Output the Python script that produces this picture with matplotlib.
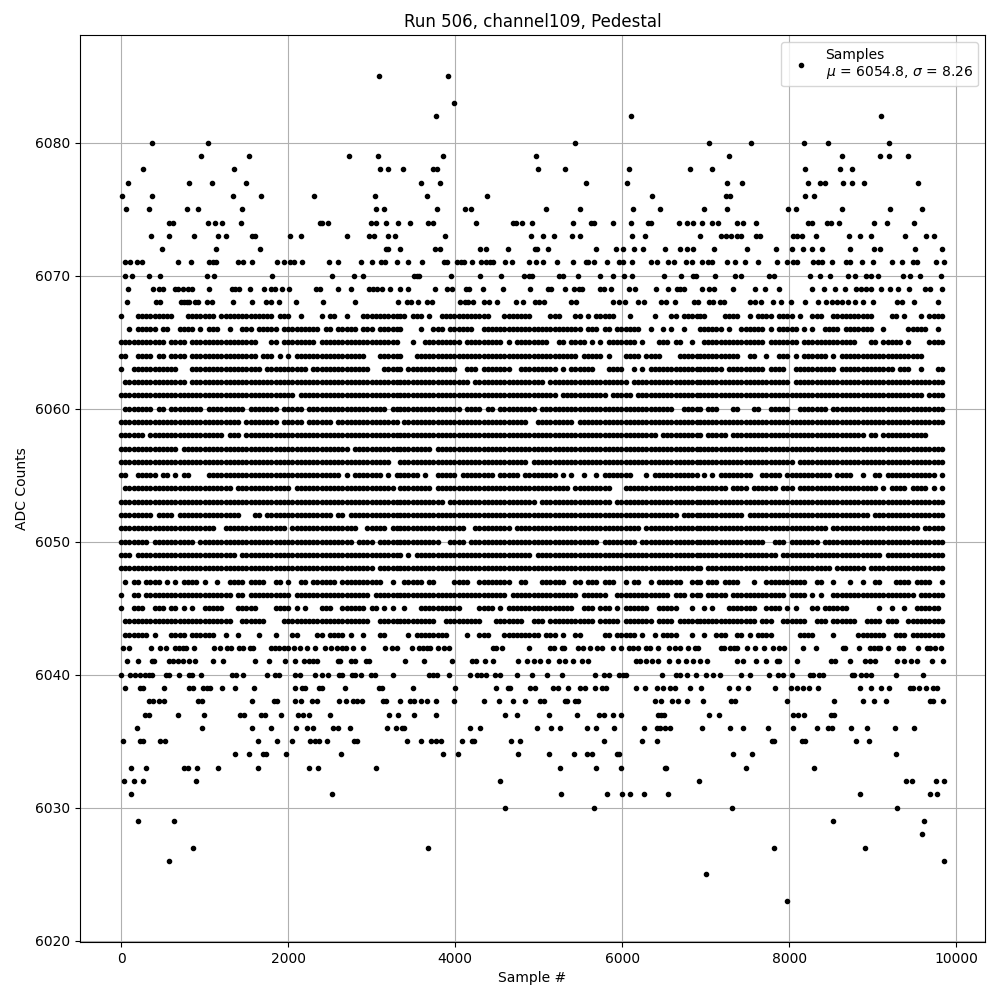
import matplotlib
matplotlib.use("Agg")
import matplotlib.pyplot as plt

title = "Run 506, channel109, Pedestal"
x_label = "Sample #"
y_label = "ADC Counts"
legend_label = "Samples\n$\\mu$ = 6054.8, $\\sigma$ = 8.26"

# Sparse levels: sample numbers
sparse = {}
sparse[6085] = [3092, 3916]
sparse[6083] = [3988]
sparse[6082] = [3772, 6100, 9104]
sparse[6080] = [368, 1040, 5440, 7040, 7544, 8180, 8468, 9200]
sparse[6079] = [956, 1532, 2732, 3080, 3856, 4972, 7280, 8636, 9092, 9200, 9428]
sparse[6078] = [260, 1352, 3104, 3200, 3376, 3736, 3784, 4996, 5320, 6076, 6808, 7076, 8192, 8612, 8756]
sparse[6077] = [80, 812, 1088, 1496, 3592, 3820, 5572, 6052, 7256, 7436, 8228, 8372, 8432, 8648, 8756, 8900, 9548]
sparse[6076] = [8, 368, 1340, 1676, 2312, 3044, 3664, 4384, 6352, 7244, 7292, 8192, 8300]
sparse[6075] = [56, 332, 788, 920, 1448, 3056, 3152, 3784, 4120, 4192, 5092, 5500, 6124, 6448, 6980, 7256, 7988, 8084, 8636, 9212, 9596]
sparse[6074] = [572, 620, 1040, 1124, 1208, 1436, 2384, 2408, 2480, 2996, 3056, 3176, 3320, 3460, 3676, 3736, 4252, 4696, 4732, 4804, 4924, 5416, 5632, 5668, 5884, 6100, 6304, 6340, 6676, 6772, 6844, 6956, 7076, 7148, 7376, 7448, 7604, 8228, 8276, 8456, 8504, 8600, 9020, 9176, 9500]
sparse[6073] = [356, 572, 872, 1160, 1256, 1568, 1604, 2024, 2156, 2708, 2972, 3032, 3200, 3284, 3880, 4912, 5056, 5188, 5404, 5500, 6112, 6268, 6928, 7184, 7244, 7304, 7376, 7424, 7604, 7652, 8048, 8096, 8156, 8324, 8720, 8852, 8984, 9392, 9644, 9728]
sparse[6072] = [488, 1136, 1664, 3176, 3200, 3336, 3760, 3820, 4300, 4372, 4636, 4960, 4984, 5116, 5692, 5920, 6004, 6136, 6244, 6508, 6688, 6772, 6844, 7100, 7496, 7844, 8036, 8168, 8276, 8396, 8732, 9020, 9092, 9512, 9824]
sparse[6071] = [44, 104, 188, 248, 680, 836, 1052, 1100, 1136, 1400, 1460, 1568, 1868, 1952, 2024, 2072, 2168, 2492, 2600, 2876, 3008, 3116, 3164, 3308, 3436, 3604, 3868, 3904, 4024, 4072, 4108, 4204, 4312, 4372, 4420, 4456, 4600, 4684, 4888, 4972, 5056, 5224, 5416, 5572, 5596, 5668, 5824, 5956, 6004, 6112, 6340, 6412, 6544, 6616, 6760, 6832, 6956, 7028, 7076, 7256, 7352, 7472, 7628, 7856, 7976, 8048, 8096, 8288, 8348, 8396, 8516, 8684, 8732, 8876, 9008, 9236, 9356, 9488, 9536, 9752, 9848]
sparse[6070] = [44, 128, 332, 464, 1028, 1112, 1808, 2528, 2792, 2900, 3508, 3544, 3568, 3952, 4300, 4552, 4828, 4888, 4924, 5248, 5296, 5476, 5740, 5884, 6016, 6112, 6496, 6700, 6844, 6880, 7112, 7352, 7424, 7760, 7820, 8252, 8372, 8492, 8708, 8792, 8924, 8984, 9068, 9368, 9452, 9572, 9812]
sparse[6069] = [80, 380, 452, 500, 644, 680, 740, 800, 848, 1052, 1328, 1364, 1412, 1544, 1712, 1796, 1844, 1928, 2012, 2336, 2384, 2600, 2756, 2972, 3020, 3068, 3128, 3224, 3340, 3436, 3760, 3904, 3964, 4132, 4168, 4336, 4576, 4900, 5116, 5152, 5320, 5428, 5488, 5524, 5740, 5788, 5872, 6076, 6148, 6400, 6544, 6652, 6688, 6736, 6956, 7040, 7100, 7328, 7592, 7708, 7880, 8276, 8420, 8552, 8672, 8804, 8864, 8924, 8984, 9104, 9212, 9308, 9440, 9632, 9680, 9824]
sparse[6068] = [68, 416, 464, 716, 752, 788, 812, 884, 920, 1028, 1088, 1340, 1568, 1736, 1796, 1892, 2096, 2420, 2804, 3320, 3424, 3472, 3556, 3664, 3724, 4060, 4120, 4156, 4216, 4348, 4408, 4504, 4732, 4816, 4960, 5008, 5068, 5392, 5452, 5884, 5956, 6028, 6184, 6256, 6460, 6520, 6628, 6856, 6904, 7040, 7088, 7172, 7220, 7532, 7592, 7664, 7808, 7904, 8024, 8192, 8348, 8444, 8516, 8576, 8636, 8708, 8792, 8888, 9004, 9296, 9356, 9500, 9776]
sparse[6042] = [20, 92, 356, 464, 536, 644, 692, 740, 776, 872, 1112, 1184, 1268, 1316, 1412, 1460, 1544, 1580, 1796, 1844, 1892, 1952, 2000, 2072, 2144, 2228, 2324, 2444, 2516, 2588, 2648, 2696, 2780, 2900, 3164, 3248, 3308, 3484, 3568, 3616, 3664, 3700, 3796, 3868, 3928, 4456, 4492, 4564, 4888, 5140, 5188, 5284, 5308, 5476, 5536, 5620, 5704, 5764, 5884, 5980, 6076, 6124, 6184, 6280, 6328, 6424, 6556, 6628, 6688, 6784, 6868, 6904, 7184, 7220, 7292, 7340, 7376, 7496, 7592, 7700, 7808, 7880, 7940, 8168, 8324, 8648, 8672, 8840, 8972, 9020, 9068, 9092, 9188, 9320, 9368, 9548, 9656, 9680, 9740, 9812]
sparse[6041] = [68, 200, 368, 392, 572, 620, 680, 740, 812, 884, 1100, 1220, 1604, 1772, 1964, 2084, 2192, 2252, 2300, 2348, 2600, 2624, 2756, 2804, 2936, 2972, 3400, 3628, 3964, 4204, 4252, 4360, 4456, 4756, 4864, 4948, 5020, 5116, 5248, 5320, 5416, 5524, 5596, 6160, 6208, 6280, 6352, 6424, 6556, 6664, 6760, 6844, 6932, 7016, 7376, 7448, 7604, 7724, 7856, 7880, 8096, 8504, 8552, 8732, 8912, 8972, 9032, 9296, 9380, 9464, 9536, 9704, 9836]
sparse[6040] = [0, 104, 164, 224, 284, 332, 368, 536, 572, 692, 812, 848, 956, 1328, 1376, 1460, 1748, 1844, 1892, 2084, 2144, 2324, 2408, 2480, 2612, 2648, 2764, 2804, 2876, 2996, 3044, 3260, 3688, 3736, 3784, 3928, 4180, 4264, 4312, 4372, 4480, 4540, 4744, 4924, 5104, 5284, 5680, 5788, 5848, 5956, 6004, 6040, 6472, 6640, 6688, 6772, 6880, 7004, 7088, 7172, 7424, 7532, 7760, 7868, 7928, 8036, 8252, 8288, 8360, 8408, 8756, 8780, 8864, 8924, 8984, 9284, 9608]
sparse[6039] = [44, 224, 260, 512, 812, 860, 980, 1028, 1064, 1208, 1364, 1592, 2084, 2168, 2204, 2372, 2408, 2684, 3092, 3128, 3496, 4000, 4492, 4636, 4660, 4900, 4960, 5176, 5236, 5356, 5500, 5560, 5680, 5764, 5812, 6160, 6268, 6412, 6484, 6568, 6628, 6808, 6944, 7280, 7388, 7508, 7832, 8024, 8096, 8168, 8240, 8348, 8852, 8984, 9104, 9200, 9452, 9488, 9560, 9644, 9716, 9764]
sparse[6038] = [332, 380, 452, 512, 920, 968, 1568, 1832, 1868, 2084, 2156, 2288, 2348, 2612, 2696, 2780, 2828, 2888, 3140, 3176, 3340, 3460, 3508, 3592, 3664, 3772, 3988, 4348, 4528, 4696, 4840, 5020, 5068, 5320, 5344, 5440, 5476, 6388, 6460, 6592, 6664, 6772, 6968, 7304, 7352, 7976, 8540, 8888, 9020, 9164, 9680, 9716, 9836]
sparse[6037] = [284, 332, 680, 992, 1424, 1472, 1676, 1724, 1916, 2120, 2180, 2252, 2504, 3212, 3320, 3508, 3772, 4600, 4744, 5128, 5464, 5728, 5788, 5884, 5980, 6424, 6460, 6496, 7040, 7160, 8048, 8108, 8180, 8504, 8540]
sparse[6036] = [188, 968, 1568, 1796, 2096, 2228, 2300, 2540, 2600, 2744, 3188, 3296, 3364, 3388, 4180, 4300, 4984, 5152, 5260, 5584, 5692, 5896, 6256, 6412, 6448, 6508, 6568, 6956, 7292, 7448, 7748, 8048, 8336, 8468, 8516, 8744, 8936, 9272, 9500]
sparse[6035] = [20, 224, 260, 464, 524, 1640, 1868, 2048, 2264, 2324, 2372, 2468, 2792, 2828, 3424, 3592, 3712, 3772, 3832, 4084, 4204, 4228, 4672, 4780, 5788, 6232, 6412, 7796, 7820, 8156, 8192, 8804, 8960]
sparse[6034] = [1364, 1532, 1700, 1736, 1976, 2636, 3856, 4036, 4756, 5128, 5428, 5584, 5644, 5932, 5956, 7328, 7556, 9284]
sparse[6033] = [116, 296, 752, 800, 908, 1160, 1640, 2252, 2360, 3056, 5260, 5692, 5980, 6508, 6520, 7484, 8300]
sparse[6032] = [32, 152, 260, 896, 4540, 6916, 9404, 9476, 9752, 9852]
sparse[6031] = [116, 2528, 5272, 5824, 5992, 6088, 6256, 6544, 8852, 9680, 9764]
sparse[6030] = [4600, 5668, 7316, 9296]
sparse[6029] = [200, 632, 8528, 9620]
sparse[6028] = [9596]
sparse[6027] = [860, 3676, 7820, 8912]
sparse[6026] = [572, 9852]
sparse[6025] = [7004]
sparse[6023] = [7976]

# Dense levels, top to bottom: occupied runs of 50-sample cells
core_levels = list(range(6067, 6042, -1))
core_left_runs = [
    "0 4-11 12 16-22 24-26 27-30 31-36 38-40 43 48 50-51 54 58-62 63-65 66",
    "2 4-8 10-11 14 15-17 19 21-23 26 29-31 33-37 39-45 46-47 49 50 52-56 58-60 62-66",
    "0-2 3-4 5-6 7-10 12-15 17-32 36-37 39-46 48-66",
    "0-1 4-7 9-10 12-15 17-22 23-32 34-36 38 40 42-58 62-66",
    "0 3-6 7-10 11-13 17-24 25-33 35-37 38-43 44 46-48 49-54 55-59 63-66",
    "1-15 17-20 21-26 27-38 39-52 53-66",
    "0-41 43-66",
    "1-7 9-10 12-19 21-29 31-34 35-37 39-43 45 46-63 65-66",
    "0-7 8-10 11-15 16-21 22-27 28 30-34 35-37 39-43 45-50 52-66",
    "0-5 7-10 11-24 26-27 28 30-35 36-44 45-49 50-66",
    "0-9 10-13 15-22 23-27 28-54 56-66",
    "0-11 12-22 23-43 44-48 49-64",
    "0-1 4-8 10-11 13 15-16 21-22 23-39 40-46 47-52 54 56-62 64 66",
    "1-12 13-26 28-33 34-40 42-65",
    "0-66",
    "0-1 2-5 6-7 9-12 14-19 20-25 26-28 32-33 35-48 49-50 52-53 55-66",
    "0-9 10-12 13-22 25-39 41-55 56 59-63 65-66",
    "0 1-4 5-6 8-17 19-21 22-26 27-31 32-55 57-60 62-66",
    "0-2 4-6 7 8-26 27 29-34 35-66",
    "0-2 3-20 21-26 27-32 33-60 62-66",
    "1 3-4 6-8 9 11 13 15-17 18 20 23 26-29 31-34 37-38 40 43-44 46-51 53-54 55-62 65",
    "0 3-4 6-10 11-16 17-26 28-29 31 32-40 42-48 49-59 61-65 66",
    "0 3-5 8-10 12-13 15 17 20-24 28-32 37-40 42 44 48-49 50 53-58 60-61 63 65",
    "1-5 6-7 8-10 11-14 15-19 20-26 29-34 39-47 48-50 51-59 62-66",
    "1-6 8 12-15 17-21 22 25 28 33 37 41-42 47-48 50-53 55 58 62-63",
]
core_mid_runs = [
    "0-1 3-5 7 10-21 25-31 36-38 42-43 45 47-51 55 61 65-66 68-71",
    "0 5 8-10 12-17 20-26 27-43 45-47 49-50 52 53-57 60 63 65 68",
    "3 6-11 12-14 16-22 23-24 26 28-35 38-39 41-44 46 48 50-56 58 62-64 66-67 70",
    "0 4 5-17 18-23 24-35 36-41 42 44-47 48 50 54-57 59-62 67-71",
    "0 2-13 16-18 20 21-26 29-30 31-37 39 41-46 50-53 56 58 60-62 63-71",
    "0-16 18-32 33-34 36-53 54 56-61 62-71",
    "0-37 39-42 43-49 51-55 57 58-71",
    "0-3 4-10 11-14 16-19 21-22 24-32 34-39 40-41 42-43 44-52 53-65 68-71",
    "1-24 25-30 33-41 43-64 65-66 67-71",
    "0-5 6-16 17-33 34-43 44-52 53-61 63-70 71",
    "0-7 9-45 46-71",
    "0-1 2-30 32-64 65-71",
    "0-1 2-4 6 9-10 11-13 15-19 20-22 24-28 30-37 39 41 44 47 49-55 59 61-65 66-71",
    "0-7 9-16 17-40 42-50 54 55-57 58-68 69-71",
    "0-10 12-32 34-50 52-71",
    "0-7 8-38 39-44 45-62 63 64-66 68-70 71",
    "0-8 9-10 11-12 13-15 18-19 20-25 26 28-57 59-71",
    "0-9 12-15 17-31 32-47 49-56 58-71",
    "0 2 4 5-14 15-24 25-28 29-30 31 33-43 44-71",
    "0-14 15-20 21-35 36-40 41 42-71",
    "1-4 5 7-8 13-16 19-26 29-30 34-39 42-43 45-47 49-51 54 56-57 60 62-67 70 71",
    "0-21 22-25 27-31 32-42 44-49 52-54 55-58 59-64 66-68 70-71",
    "1 5-9 10-14 19-22 24 26-34 35-38 39-41 44-46 48-50 52 54-59 62-66 70",
    "0-3 4-8 11-19 23-29 32-34 36-40 41-46 48-52 54 55-60 62-65 67-71",
    "2 4-6 7-11 16 19-21 25-30 31-33 35-37 39 42-43 49-50 52-56 58 61 63-66 70",
]
core_right_runs = [
    "0-1 6-9 12 14-17 19 20-22 24 27-29 32-41 46 47 49 53 55-58",
    "0-2 3-5 7 10-15 17 19-23 25 27 30-33 35-41 44 50-53 54 57",
    "1-4 5 6-15 17-23 25-37 41-42 44-48 50 55-58",
    "0-9 12-13 16 19-20 21 23 25-30 32 34-53",
    "0-5 7-15 17-20 23-32 34-46 48-50 53 57-58",
    "0-9 10-21 23-26 27-31 32-48 49-52 53-56 57-58",
    "0-9 10-28 29-34 35-53 55-58",
    "0 2-4 8-9 13-14 17-21 24-30 32 33-37 38-47 48-53 54-58",
    "0-4 5 6-17 18-36 37-41 42-45 46-57 58",
    "0 2-6 8-10 11-23 24-28 29 30-31 32-39 41 42 44-54",
    "0-26 27-53 54-58",
    "0-22 24-34 35-58",
    "1 3 5-8 9 10-12 15 16-19 21-28 29-31 33 34-36 39 42-43 45 46-56 58",
    "0-5 6 8-11 13-18 20-22 24-42 44 46-49 51-54 56 58",
    "0-58",
    "0-10 12-40 42-58",
    "0-30 32-39 40-52 54-58",
    "0-4 5-15 18-20 22-28 30-34 35-43 44-58",
    "0-9 10-18 20-43 45-58",
    "0 2-25 26-31 33-36 37-39 41-43 44-58",
    "0 2-4 6-9 13 16-25 28-29 32 36 39 42-43 47-50 52-55 58",
    "0 2-6 8-20 22-24 25 27 29 32-34 35-49 50-51 53-58",
    "1 3 7-13 16-19 21 23 27-28 30-35 43 46 49 52-57",
    "0-11 12-13 15-17 20-25 28-30 32-37 40-43 45-47 50-58",
    "1 4-6 9-10 12 14-17 24 25-27 32 38-44 47-49 51-52 53-58",
]
cell_samples = 50
left_origin = 0
mid_origin = 3340
right_origin = 6928


def expand(runs, origin):
    out = []
    for part in runs.split():
        a, _, b = part.partition("-")
        for c in range(int(a), int(b or a) + 1):
            out.append(origin + c * cell_samples)
    return out


xs, ys = [], []
for level, vals in sparse.items():
    xs += vals
    ys += [level] * len(vals)
for i, level in enumerate(core_levels):
    vals = (expand(core_left_runs[i], left_origin)
            + expand(core_mid_runs[i], mid_origin)
            + expand(core_right_runs[i], right_origin))
    xs += vals
    ys += [level] * len(vals)

fig, ax = plt.subplots(figsize=(10, 10), dpi=100)
ax.plot(xs, ys, "k.", label=legend_label)
ax.set_title(title)
ax.set_xlabel(x_label)
ax.set_ylabel(y_label)
ax.grid(True)
ax.legend(loc="upper right")
fig.subplots_adjust(left=0.08, right=0.985, top=0.965, bottom=0.058)
fig.savefig("out.png", dpi=100)
